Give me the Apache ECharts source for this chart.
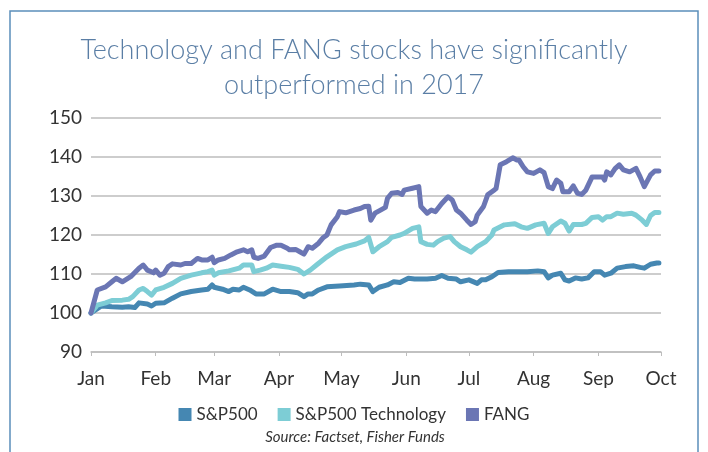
<!DOCTYPE html>
<html>
<head>
<meta charset="utf-8">
<script src="https://cdn.jsdelivr.net/npm/echarts@6/dist/echarts.min.js"></script>
<style>
html,body{margin:0;padding:0;background:#fff;}
#chart{width:708px;height:452px;}
</style>
</head>
<body>
<div id="chart"></div>
<script>
// Month labels and their day offsets from 1 Jan 2017
var monthLabels = ['Jan','Feb','Mar','Apr','May','Jun','Jul','Aug','Sep','Oct'];
var monthStarts = [0,31,59,90,120,151,181,212,243,273];
var yTicks = [90,100,110,120,130,140,150];

// Series values: [day offset from 1 Jan, index value]
var sp500 = [[0,100],[5,101.8],[10,101.6],[15,101.5],[18,101.6],[21,101.4],[23,102.6],[27,102.3],[29,101.8],[31,102.5],[35,102.6],[39,103.8],[43,104.9],[48,105.5],[53,105.9],[56,106.1],[58,107.2],[59,106.6],[63,106.1],[66,105.5],[68,106.1],[71,105.9],[73,106.6],[76,105.9],[79,104.9],[83,104.9],[87,106.1],[91,105.5],[95,105.5],[99,105.2],[102,104.2],[104,104.9],[106,104.9],[109,105.9],[113,106.7],[119,106.9],[126,107.2],[129,107.4],[133,107.2],[135,105.5],[138,106.6],[142,107.2],[145,108],[148,107.8],[152,108.9],[155,108.7],[161,108.7],[165,108.9],[168,109.6],[171,108.9],[175,108.7],[177,108],[181,108.5],[185,107.6],[187,108.5],[189,108.5],[192,109.3],[195,110.4],[200,110.6],[205,110.6],[209,110.6],[214,110.8],[217,110.6],[219,109],[221,109.7],[225,110.2],[227,108.5],[229,108.2],[232,109],[235,108.7],[238,109],[241,110.6],[244,110.6],[246,109.7],[249,110.2],[252,111.5],[256,111.9],[260,112.1],[263,111.7],[265,111.5],[268,112.5],[271,112.8],[272,112.8]];

var sp500Tech = [[0,100],[3,102],[7,102.6],[10,103.2],[15,103.3],[18,103.5],[20,104.2],[23,105.9],[25,106.3],[27,105.5],[29,104.6],[31,105.9],[35,106.6],[39,107.6],[43,108.9],[48,109.7],[53,110.3],[56,110.6],[58,111],[59,109.7],[61,110.3],[66,110.8],[71,111.5],[73,112.3],[77,112.3],[78,110.6],[81,111],[84,111.5],[87,112.3],[91,112],[95,111.7],[99,111.2],[102,110],[105,111],[108,112.3],[113,114.4],[118,116.2],[122,117],[127,117.7],[131,118.5],[133,119.4],[135,115.7],[138,117],[142,118.3],[144,119.4],[148,120],[150,120.4],[154,121.7],[157,122.1],[158,118.3],[161,117.6],[164,117.4],[166,118.3],[169,119.2],[172,119.6],[174,118.3],[177,117],[180,116.2],[182,115.6],[185,117],[189,118.3],[192,120],[193,121.3],[198,122.6],[203,122.9],[206,122.1],[209,121.7],[213,122.6],[217,123],[219,120.4],[221,122.1],[225,123.6],[227,123],[229,121],[231,122.7],[235,122.7],[237,123],[240,124.5],[243,124.7],[245,123.8],[247,124.7],[249,124.7],[252,125.6],[255,125.3],[259,125.6],[261,125.1],[264,123.8],[266,122.7],[268,125],[270,125.8],[272,125.8]];

var fang = [[0,100],[3,105.9],[7,106.7],[10,108],[12,108.9],[15,108],[19,109.3],[23,111.5],[25,112.3],[27,111],[30,110.3],[31,111],[33,109.7],[35,110.2],[37,111.9],[39,112.6],[43,112.3],[45,112.7],[48,112.7],[51,114],[53,113.6],[56,113.6],[58,114.3],[59,112.9],[61,113.6],[64,114],[67,114.9],[70,115.7],[73,116.2],[75,115.7],[77,116.2],[78,114.3],[80,114],[83,114.6],[86,116.8],[89,117.4],[91,117.4],[94,116.6],[95,116.2],[98,116.3],[100,115.7],[102,115.1],[104,117],[106,116.6],[109,117.9],[111,119.2],[113,120],[115,122.6],[118,124.7],[119,126],[122,125.7],[126,126.4],[129,126.8],[131,127.3],[133,127.4],[134,123.8],[136,125.6],[138,126.2],[141,127.1],[142,129.4],[144,130.7],[147,130.9],[149,130.4],[150,131.5],[154,132],[157,132.4],[158,127.3],[161,125.6],[163,126.4],[165,126],[168,128.1],[171,129.8],[173,129],[175,126.4],[177,125.6],[180,123.8],[182,122.7],[184,123.4],[185,125.1],[188,127.3],[190,130.3],[193,131.5],[194,131.9],[196,138],[199,138.8],[202,139.8],[204,139.2],[205,139.2],[207,137.5],[209,136.2],[212,135.8],[215,136.7],[217,136],[219,132.4],[221,131.9],[223,134.1],[225,133.3],[226,131.1],[229,131.1],[231,132.6],[233,130.7],[235,130.4],[237,131.5],[240,134.9],[242,134.9],[245,134.9],[246,134.1],[247,136.2],[249,135.4],[251,137],[253,138],[255,136.7],[258,136.2],[261,137.1],[263,134.9],[265,132.4],[268,135.4],[270,136.4],[272,136.4]];

var seriesNames = ['S&P500','S&P500 Technology','FANG'];
var seriesColors = ['#4587b2','#7dcdd5','#6b76b4'];
var seriesData = [sp500, sp500Tech, fang];

var chart = echarts.init(document.getElementById('chart'), null, {renderer:'canvas'});
var fontFam = 'Lato, "Open Sans", sans-serif';

var option = {
  animation: false,
  backgroundColor: '#ffffff',
  title: {
    text: 'Technology and FANG stocks have significantly\noutperformed in 2017',
    left: 'center',
    top: 28,
    textStyle: {
      fontFamily: fontFam,
      fontWeight: 300,
      fontSize: 27,
      lineHeight: 35,
      color: '#5a7ea5',
      align: 'center'
    }
  },
  legend: {
    data: seriesNames,
    top: 401,
    left: 'center',
    icon: 'rect',
    itemWidth: 13,
    itemHeight: 13,
    itemGap: 20,
    textStyle: {fontFamily: fontFam, fontSize: 17, color: '#333'}
  },
  grid: {left: 91, right: 47, top: 118, bottom: 100, containLabel: false},
  xAxis: {
    type: 'value',
    min: 0,
    max: 273,
    axisLine: {show: true, lineStyle: {color: '#bdbdbd', width: 1.5}},
    axisTick: {show: true, length: 4, customValues: monthStarts, lineStyle: {color: '#bdbdbd'}},
    splitLine: {show: false},
    axisLabel: {
      customValues: monthStarts,
      margin: 17,
      fontFamily: fontFam,
      fontSize: 19,
      color: '#333',
      formatter: function (v) {
        var i = monthStarts.indexOf(Math.round(v));
        return i >= 0 ? monthLabels[i] : '';
      }
    }
  },
  yAxis: {
    type: 'value',
    min: yTicks[0],
    max: yTicks[yTicks.length - 1],
    interval: 10,
    axisLine: {show: false},
    axisTick: {show: false},
    splitLine: {lineStyle: {color: '#bdbdbd', width: 1.5}},
    axisLabel: {margin: 9, fontFamily: fontFam, fontSize: 19, color: '#333'}
  },
  series: seriesNames.map(function (n, i) {
    return {
      name: n,
      type: 'line',
      data: seriesData[i],
      showSymbol: false,
      symbol: 'none',
      smooth: false,
      color: seriesColors[i],
      lineStyle: {width: 5, color: seriesColors[i], join: 'round', cap: 'round'}
    };
  }),
  graphic: [
    {
      type: 'rect',
      shape: {x: 10, y: 11, width: 688, height: 470},
      style: {fill: 'none', stroke: '#5b8fba', lineWidth: 1.5},
      silent: true
    },
    {
      type: 'text',
      x: 355,
      y: 437,
      style: {
        text: 'Source: Factset, Fisher Funds',
        fontFamily: fontFam,
        fontStyle: 'italic',
        fontSize: 15,
        fill: '#333',
        align: 'center',
        verticalAlign: 'middle'
      }
    }
  ]
};
chart.setOption(option);
</script>
</body>
</html>
